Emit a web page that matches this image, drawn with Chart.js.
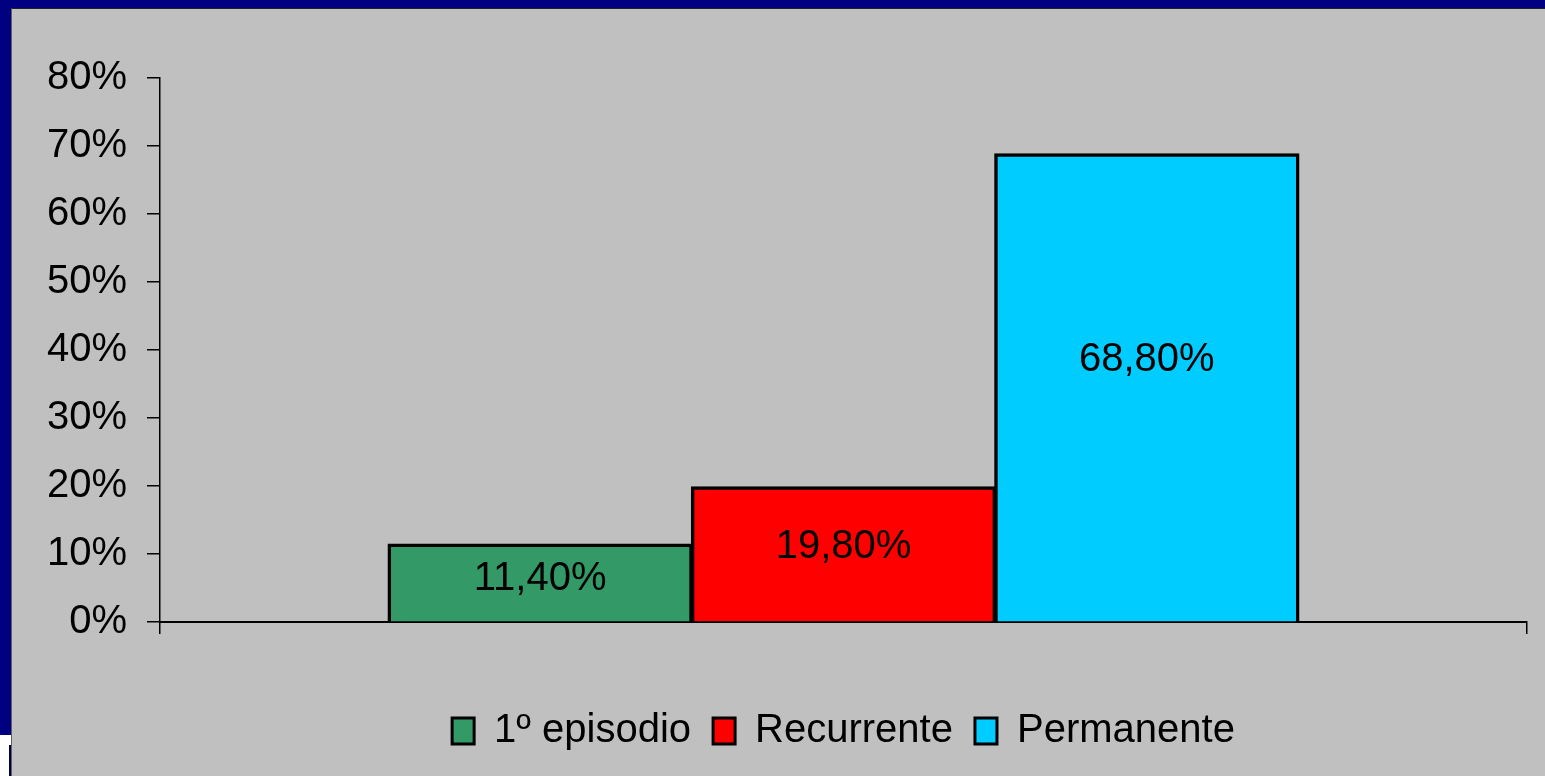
<!DOCTYPE html>
<html>
<head>
<meta charset="utf-8">
<script src="https://cdn.jsdelivr.net/npm/chart.js@4"></script>
<style>
  html, body { margin: 0; padding: 0; background: #000080; width: 1545px; height: 776px; overflow: hidden; }
  #panel { position: absolute; left: 11px; top: 8px; width: 1534px; height: 768px; background: #c0c0c0; border-top: 1px solid #202020; border-left: 1px solid #606060; box-sizing: border-box; }
  #corner { position: absolute; left: 0; top: 735px; width: 11px; height: 41px; background: #ffffff; }
  #corner div { position: absolute; left: 9px; top: 10px; width: 2px; height: 31px; background: #000040; }
</style>
</head>
<body>
<div id="corner"><div></div></div>
<div id="panel"><canvas id="chart" width="1533" height="767"></canvas></div>
<script>
const categories = [''];
const seriesNames = ['1º episodio', 'Recurrente', 'Permanente'];
const seriesValues = [11.4, 19.8, 68.8];
const seriesColors = ['#339966', '#ff0000', '#00ccff'];
const yTicks = [0, 10, 20, 30, 40, 50, 60, 70, 80];

const FONT = "'Liberation Sans', Arial, sans-serif";

const valueLabels = {
  id: 'valueLabels',
  afterDatasetsDraw(chart) {
    const ctx = chart.ctx;
    const y = chart.scales.y;
    ctx.save();
    ctx.font = '40px ' + FONT;
    ctx.fillStyle = '#000';
    ctx.textAlign = 'center';
    ctx.textBaseline = 'middle';
    chart.data.datasets.forEach((ds, i) => {
      const bar = chart.getDatasetMeta(i).data[0];
      const v = ds.data[0];
      const txt = v.toFixed(2).replace('.', ',') + '%';
      ctx.fillText(txt, bar.x, y.getPixelForValue(v * 0.56));
    });
    ctx.restore();
  }
};

new Chart(document.getElementById('chart'), {
  type: 'bar',
  data: {
    labels: categories,
    datasets: seriesNames.map((name, i) => ({
      label: name,
      data: [seriesValues[i]],
      backgroundColor: seriesColors[i],
      borderColor: '#000',
      borderWidth: 3.5,
      inflateAmount: 1,
      categoryPercentage: 0.6657,
      barPercentage: 1.0
    }))
  },
  options: {
    responsive: false,
    animation: false,
    layout: { padding: { top: 69, right: 18, bottom: 15, left: 0 } },
    plugins: {
      tooltip: { enabled: false },
      legend: {
        position: 'bottom',
        fullSize: false,
        labels: {
          color: '#000',
          font: { family: FONT, size: 40 },
          boxWidth: 22,
          boxHeight: 26,
          padding: 22,
          generateLabels(chart) {
            return chart.data.datasets.map((ds, i) => ({
              text: ds.label,
              fillStyle: ds.backgroundColor,
              strokeStyle: '#000',
              lineWidth: 3,
              datasetIndex: i,
              hidden: false,
              fontColor: '#000'
            }));
          }
        }
      }
    },
    scales: {
      x: {
        ticks: { display: false },
        grid: { drawOnChartArea: false, color: '#000', tickLength: 12, lineWidth: 1.5 },
        border: { color: '#000', width: 2 },
        afterFit(scale) { scale.height = 67; }
      },
      y: {
        min: 0,
        max: 80,
        afterBuildTicks(scale) { scale.ticks = yTicks.map(v => ({ value: v })); },
        ticks: {
          color: '#000',
          font: { family: FONT, size: 40 },
          padding: 20,
          callback: v => v + '%'
        },
        grid: { drawOnChartArea: false, color: '#000', tickLength: 13, lineWidth: 1.5 },
        border: { color: '#000', width: 1.5 },
        afterFit(scale) { scale.width = 148; }
      }
    }
  },
  plugins: [valueLabels]
});
</script>
</body>
</html>
